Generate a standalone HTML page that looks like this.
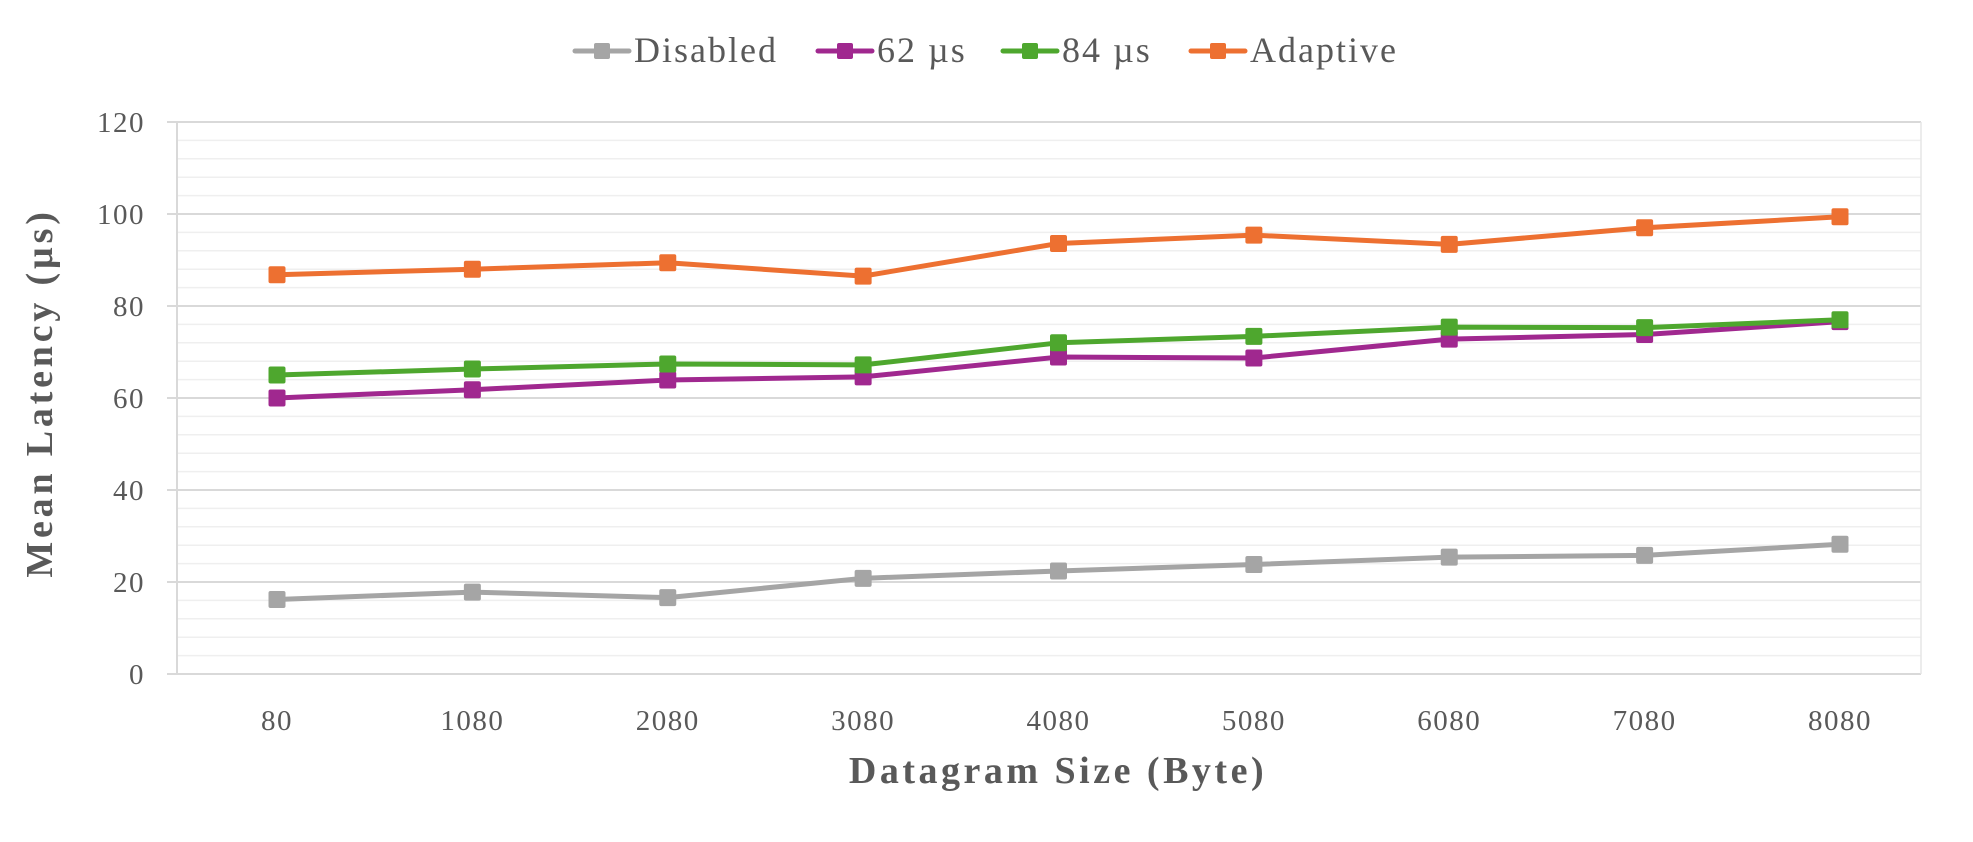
<!DOCTYPE html>
<html><head><meta charset="utf-8"><style>
html,body{margin:0;padding:0;background:#fff;}
svg text{font-family:"Liberation Serif",serif;fill:#595959;}
</style></head><body>
<svg id="chart" width="1973" height="837" viewBox="0 0 1973 837" xmlns="http://www.w3.org/2000/svg"></svg>
<script>
const categories=["80","1080","2080","3080","4080","5080","6080","7080","8080"];
const disabled=[16.2,17.8,16.6,20.8,22.4,23.8,25.4,25.8,28.2];
const us62=[60,61.8,63.9,64.6,68.9,68.7,72.8,73.8,76.6];
const us84=[65,66.3,67.4,67.2,72,73.4,75.4,75.3,77];
const adaptive=[86.8,88,89.4,86.5,93.6,95.4,93.4,97,99.4];
const yTicks=[0,20,40,60,80,100,120];
const seriesNames=["Disabled","62 µs","84 µs","Adaptive"];
const seriesData=[disabled,us62,us84,adaptive];
const colors=["#a5a5a5","#a0288f","#4ea72e","#ed7031"];

const svg=document.getElementById('chart');
const NS="http://www.w3.org/2000/svg";
const L=177,R=1921,T=122,B=674,yMax=120;
const X0=277,X1=1840;
function xPos(i){return X0+(X1-X0)*i/(categories.length-1);}
function yPos(v){return B-(v/yMax)*(B-T);}
function el(tag,attrs,parent){const e=document.createElementNS(NS,tag);for(const k in attrs)e.setAttribute(k,attrs[k]);(parent||svg).appendChild(e);return e;}

for(let v=4;v<yMax;v+=4){if(v%20===0)continue;
 const g=el('line',{x1:L,x2:R,y1:yPos(v),y2:yPos(v),stroke:'#efefef','stroke-width':1.5});
 
 }
yTicks.forEach(v=>{
 const g=el('line',{x1:L-10,x2:R,y1:yPos(v),y2:yPos(v),stroke:'#d9d9d9','stroke-width':2});
 
 
 const t=el('text',{x:145,y:yPos(v)+10,'text-anchor':'end','font-size':29,'letter-spacing':1.5});
 t.textContent=v;
 
 
});
const ax=el('line',{x1:L,x2:L,y1:T,y2:B,stroke:'#d9d9d9','stroke-width':2});


const ax2=el('line',{x1:R,x2:R,y1:T,y2:B,stroke:'#e6e6e6','stroke-width':1.5});


categories.forEach((c,i)=>{
 const t=el('text',{x:xPos(i),y:730,'text-anchor':'middle','font-size':29,'letter-spacing':1.5});
 t.textContent=c;
 
 
});
seriesData.forEach((d,s)=>{
 const g=el('g',{});
 
 
 el('polyline',{points:d.map((v,i)=>xPos(i)+','+yPos(v)).join(' '),fill:'none',stroke:colors[s],'stroke-width':5,'stroke-linejoin':'round'},g);
 d.forEach((v,i)=>{
  const m=el('rect',{x:xPos(i)-8.5,y:yPos(v)-8.5,width:17,height:17,rx:2,fill:colors[s]},g);
  
  
 });
});
const legX=[575,818,1003,1191];
seriesNames.forEach((n,s)=>{
 const g=el('g',{});
 
 
 el('line',{x1:legX[s],x2:legX[s]+54,y1:51,y2:51,stroke:colors[s],'stroke-width':5,'stroke-linecap':'round'},g);
 el('rect',{x:legX[s]+19,y:43,width:16,height:16,rx:2,fill:colors[s]},g);
 const t=el('text',{x:legX[s]+59,y:62,'font-size':36,'letter-spacing':2},g);
 t.textContent=n;
});
const xt=el('text',{x:1058,y:783,'text-anchor':'middle','font-size':38,'font-weight':'bold','letter-spacing':3.5});
xt.textContent="Datagram Size (Byte)";


const yt=el('text',{x:0,y:0,'text-anchor':'middle','font-size':38,'font-weight':'bold','letter-spacing':3.8,transform:'translate(52,393) rotate(-90)'});
yt.textContent="Mean Latency (µs)";


</script>
</body></html>
